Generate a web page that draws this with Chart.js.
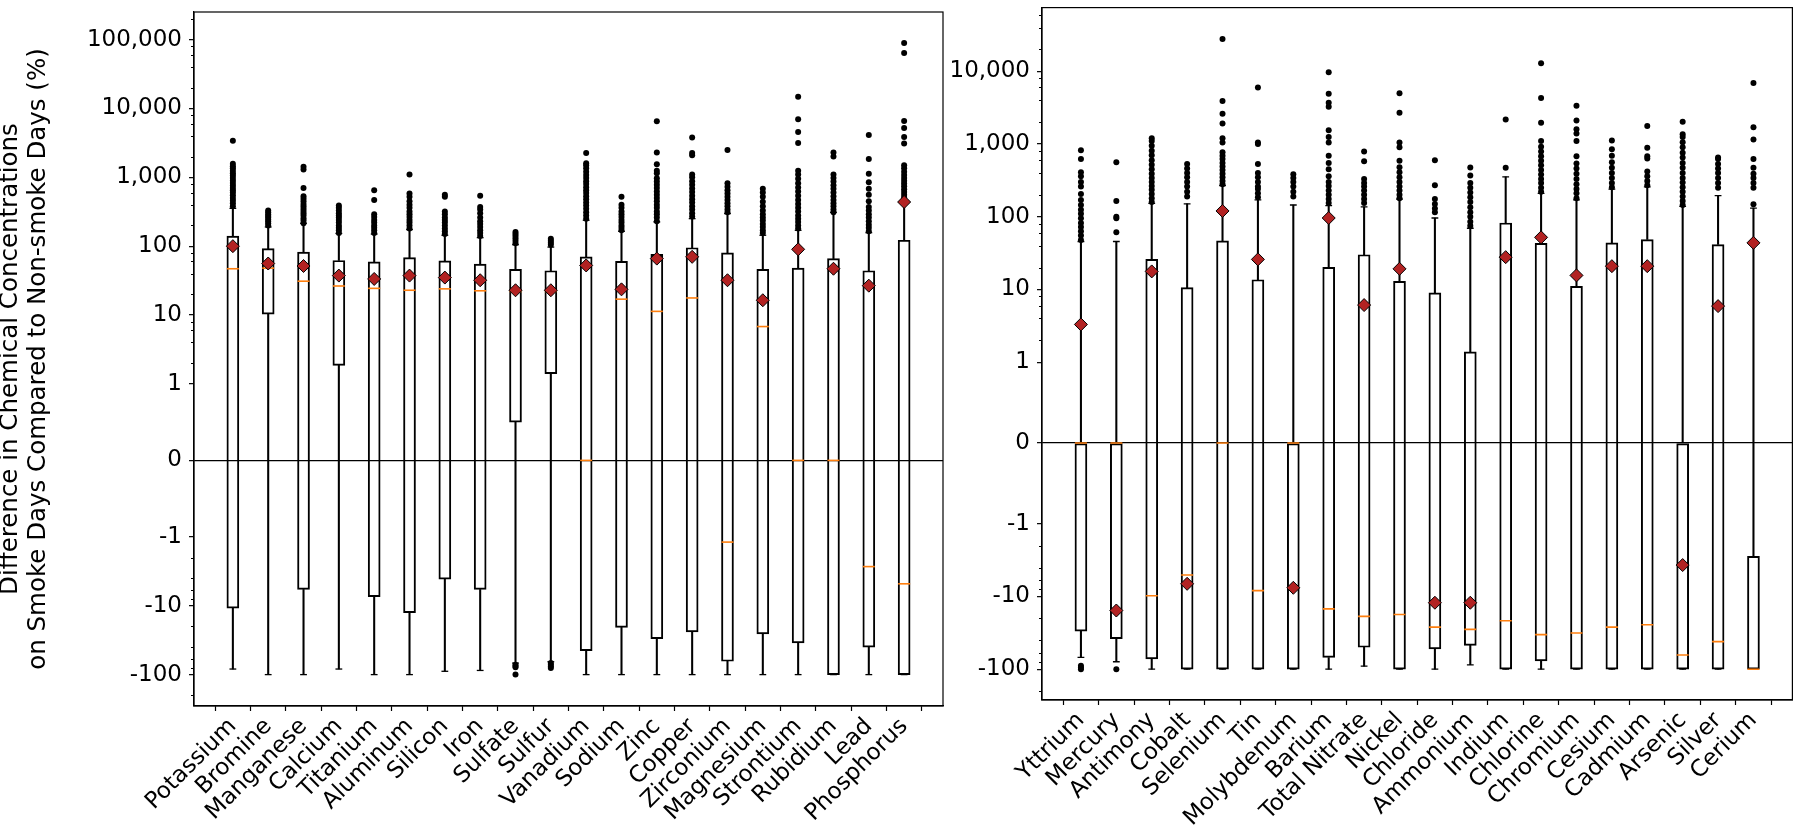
<!DOCTYPE html>
<html>
<head>
<meta charset="utf-8">
<script src="https://cdn.jsdelivr.net/npm/chart.js@4.4.1/dist/chart.umd.min.js"></script>
<style>
html, body { margin: 0; padding: 0; background: #fff; }
#wrap { position: relative; width: 1800px; height: 840px; }
.panel { position: absolute; top: 0; height: 840px; }
</style>
</head>
<body>
<div id="wrap">
  <div class="panel" style="left:0;width:960px"><canvas id="leftChart"></canvas></div>
  <div class="panel" style="left:880px;width:920px"><canvas id="rightChart"></canvas></div>
</div>
<script>
// ---- Panel gauche ----
const leftNames = ['Potassium', 'Bromine', 'Manganese', 'Calcium', 'Titanium', 'Aluminum', 'Silicon', 'Iron', 'Sulfate', 'Sulfur',
  'Vanadium', 'Sodium', 'Zinc', 'Copper', 'Zirconium', 'Magnesium', 'Strontium', 'Rubidium', 'Lead', 'Phosphorus'];
const leftQ3 = [140, 92, 82, 62, 59, 68, 61, 55, 46, 44, 70, 60, 76, 95, 80, 46, 48, 66, 44, 122];
const leftQ1 = [-10.8, 10.3, -5.8, 1.86, -7.4, -12.6, -4.1, -5.8, 0.5, 1.41, -45, -20.6, -30, -24, -64, -25.7, -34.7, -100, -40, -100];
const leftMedian = [47, 48, 31, 26.4, 24.4, 22.9, 24, 22.5, 22, 22, 0, 17, 11.3, 17.7, -1.19, 6.8, 0, 0, -2.7, -4.8];
const leftMean = [100, 56, 51.5, 37.4, 33.4, 37.4, 35, 32, 22.9, 22.9, 52.5, 23.6, 66, 70, 32, 16.4, 90, 47, 26.7, 438];
const leftWhiskHigh = [354, 190, 215, 153, 150, 174, 144, 133, 105, 97, 238, 164, 225, 251, 297, 144, 170, 310, 157, 455];
const leftWhiskLow = [-83, -100, -100, -83, -100, -100, -89.5, -87, -68, -65, -100, -100, -100, -100, -100, -100, -100, -100, -100, -100];
const leftOutliers = [
  [380, 420, 460, 500, 550, 600, 650, 700, 760, 830, 900, 980, 1060, 1150, 1250, 1350, 1450, 1580, 3400],
  [200, 215, 230, 245, 260, 275, 290, 310, 330],
  [215, 235, 255, 280, 300, 325, 350, 380, 410, 450, 490, 530, 700, 1300, 1420],
  [155, 170, 185, 200, 220, 240, 260, 280, 300, 330, 360, 390],
  [155, 170, 185, 200, 220, 240, 265, 290, 470, 650],
  [180, 200, 220, 240, 265, 290, 320, 360, 400, 450, 520, 580, 1100],
  [150, 165, 180, 200, 220, 240, 260, 290, 320, 520, 560],
  [140, 155, 170, 190, 210, 230, 260, 300, 340, 370, 540],
  [110, 120, 130, 140, 150, 160, -72, -75, -78, -100],
  [105, 112, 120, 128, -68, -72, -76, -80],
  [250, 280, 310, 350, 390, 430, 480, 530, 590, 650, 720, 800, 880, 980, 1080, 1200, 1350, 1500, 1600, 2250],
  [170, 185, 200, 220, 240, 265, 290, 320, 360, 400, 520],
  [230, 260, 290, 320, 360, 400, 450, 500, 560, 620, 700, 780, 870, 970, 1150, 1250, 1550, 2300, 6500],
  [270, 300, 340, 380, 430, 480, 540, 610, 690, 780, 880, 1000, 1100, 2100, 2250, 3800],
  [310, 340, 380, 420, 470, 520, 580, 650, 730, 820, 2500],
  [155, 170, 190, 210, 235, 260, 290, 330, 380, 440, 520, 600, 680],
  [180, 200, 225, 250, 280, 320, 360, 410, 470, 540, 620, 710, 820, 950, 1100, 1250, 3150, 4560, 6970, 14800],
  [310, 340, 380, 420, 470, 530, 600, 680, 770, 870, 980, 1100, 2000, 2300],
  [165, 185, 205, 230, 260, 290, 330, 370, 450, 560, 680, 850, 1130, 1840, 4130],
  [470, 510, 560, 610, 670, 740, 810, 890, 980, 1080, 1200, 1350, 1500, 3100, 3850, 5200, 6600, 64000, 89000]
];
const leftYTicks = [100000, 10000, 1000, 100, 10, 1, 0, -1, -10, -100];

// ---- Panel droit ----
const rightNames = ['Yttrium', 'Mercury', 'Antimony', 'Cobalt', 'Selenium', 'Tin', 'Molybdenum', 'Barium', 'Total Nitrate', 'Nickel',
  'Chloride', 'Ammonium', 'Indium', 'Chlorine', 'Chromium', 'Cesium', 'Cadmium', 'Arsenic', 'Silver', 'Cerium'];
const rightQ3 = [0, 0, 25.9, 10.6, 46.5, 13.6, 0, 20.1, 30, 12.9, 8.95, 1.39, 82, 43, 11, 43.7, 48.6, 0, 41.5, -2.8];
const rightQ1 = [-29.9, -38, -72, -100, -100, -100, -100, -69, -50, -100, -52.7, -47, -100, -77, -100, -100, -100, -100, -100, -100];
const rightMedian = [0, 0, -9.8, -5.06, 0, -8.3, 0, -14.8, -18.8, -17.7, -26.4, -28.4, -21.6, -33.5, -31.8, -26.4, -24.5, -63.7, -41.8, -100];
const rightMean = [3.3, -15.6, 17.7, -6.7, 120, 25.9, -7.6, 96, 6.1, 19.2, -12.2, -12.2, 27.8, 52, 15.6, 20.9, 20.9, -3.7, 5.9, 43.7];
const rightWhiskHigh = [45.6, 45.6, 153, 150, 267, 170, 145, 142, 137, 175, 96, 69.4, 354, 209, 170, 240, 258, 139, 195, 131];
const rightWhiskLow = [-69, -79, -100, -100, -100, -100, -100, -100, -91, -100, -100, -87, -100, -100, -100, -100, -100, -100, -100, -100];
const rightOutliers = [
  [48, 55, 63, 72, 82, 95, 110, 125, 145, 170, 205, 260, 300, 360, 410, 620, 820, -90, -95, -100],
  [61, 95, 100, 165, 560, -100],
  [160, 180, 205, 235, 265, 300, 340, 390, 450, 520, 600, 700, 810, 950, 1100, 1200],
  [190, 220, 260, 300, 350, 400, 460, 530],
  [280, 310, 350, 390, 440, 490, 550, 620, 690, 770, 1050, 1200, 1920, 2600, 3900, 27700],
  [185, 210, 240, 260, 300, 350, 400, 530, 1000, 1050, 6000],
  [190, 220, 260, 300, 340, 385],
  [155, 175, 200, 230, 265, 300, 360, 450, 550, 690, 1050, 1250, 1550, 3250, 3700, 4900, 9700],
  [155, 175, 200, 230, 260, 290, 330, 580, 790],
  [180, 200, 230, 260, 300, 350, 410, 480, 590, 900, 1050, 2700, 5000],
  [115, 130, 150, 175, 270, 600],
  [75, 85, 100, 115, 135, 160, 185, 215, 250, 290, 370, 475],
  [470, 2170],
  [220, 250, 290, 330, 380, 440, 510, 590, 680, 790, 920, 1100, 1960, 4300, 12900],
  [180, 210, 240, 280, 330, 390, 460, 540, 680, 1100, 1400, 1600, 2100, 3350],
  [255, 290, 340, 400, 470, 560, 690, 850, 1120],
  [270, 310, 360, 420, 630, 680, 890, 1770],
  [145, 165, 190, 220, 255, 295, 340, 400, 470, 550, 650, 760, 900, 1060, 1250, 1360, 2020],
  [250, 290, 340, 400, 460, 530, 620, 650],
  [148, 250, 290, 340, 390, 470, 620, 1150, 1700, 6900]
];
const rightYTicks = [10000, 1000, 100, 10, 1, 0, -1, -10, -100];

// échelle symlog (linthresh = 1, comme matplotlib)
const LIN = 1 / (1 - 1 / 10);
function symlog(v) {
  const a = Math.abs(v);
  return a <= 1 ? v * LIN : Math.sign(v) * (LIN + Math.log10(a));
}

Chart.defaults.font.family = "'DejaVu Sans', sans-serif";
Chart.defaults.font.size = 23;
Chart.defaults.color = '#000';

// petites graduations mineures (2, 4, 6, 8 x 10^k)
const minorTicks = {
  id: 'minorTicks',
  afterDraw(chart) {
    const ys = chart.scales.y;
    const {left, top, bottom} = chart.chartArea;
    const ctx = chart.ctx;
    ctx.save();
    ctx.strokeStyle = '#000';
    ctx.lineWidth = 1;
    for (let k = 0; k <= 5; k++) {
      for (const m of [2, 4, 6, 8]) {
        for (const s of [1, -1]) {
          const p = ys.getPixelForValue(symlog(s * m * Math.pow(10, k)));
          if (p < top || p > bottom) continue;
          ctx.beginPath();
          ctx.moveTo(left - 3, Math.round(p) + 0.5);
          ctx.lineTo(left, Math.round(p) + 0.5);
          ctx.stroke();
        }
      }
    }
    ctx.restore();
  }
};

// cadre autour de la zone de tracé
const frame = {
  id: 'frame',
  afterDraw(chart) {
    const {left, top, right, bottom} = chart.chartArea;
    const ctx = chart.ctx;
    ctx.save();
    ctx.strokeStyle = '#000';
    ctx.lineWidth = 1.2;
    ctx.strokeRect(left, top, right - left, bottom - top);
    ctx.restore();
  }
};

function buildPanel(canvasId, p) {
  const idx = p.names.map((_, i) => i);
  const whiskUp = idx.map(i => ({x: i, y: [symlog(p.q3[i]), symlog(p.whiskHigh[i])]}));
  const whiskDown = idx.map(i => ({x: i, y: [symlog(p.whiskLow[i]), symlog(p.q1[i])]}));
  const boxes = idx.map(i => ({x: i, y: [symlog(p.q1[i]), symlog(p.q3[i])]}));
  const caps = idx.flatMap(i => [{x: i, y: symlog(p.whiskLow[i])}, {x: i, y: symlog(p.whiskHigh[i])}]);
  const medians = idx.map(i => ({x: i, y: symlog(p.median[i])}));
  const means = idx.map(i => ({x: i, y: symlog(p.mean[i])}));
  const fliers = idx.flatMap(i => p.outliers[i].map(v => ({x: i, y: symlog(v)})));

  const yTitle = p.yTitle ? {
    display: true,
    text: p.yTitle,
    font: {size: 24.5, lineHeight: 1.165},
    padding: {top: -3.8, bottom: 0}
  } : {display: false};

  return new Chart(document.getElementById(canvasId), {
    type: 'bar',
    data: {
      datasets: [
        {type: 'bar', data: whiskUp, backgroundColor: '#000', borderWidth: 0, barThickness: 1.4, grouped: false, order: 7},
        {type: 'bar', data: whiskDown, backgroundColor: '#000', borderWidth: 0, barThickness: 1.4, grouped: false, order: 6},
        {type: 'bar', data: boxes, backgroundColor: 'rgba(0,0,0,0)', borderColor: '#000', borderWidth: 1.3,
          borderSkipped: false, barThickness: 12, grouped: false, order: 5},
        {type: 'scatter', data: caps, pointStyle: 'line', pointRadius: 3.4, pointBorderColor: '#000', pointBorderWidth: 1.3, order: 4},
        {type: 'scatter', data: medians, pointStyle: 'line', pointRadius: 6, pointBorderColor: '#ff7f0e', pointBorderWidth: 1.6, order: 3},
        {type: 'scatter', data: fliers, pointStyle: 'circle', pointRadius: 3, pointBackgroundColor: '#000',
          pointBorderColor: '#000', pointBorderWidth: 0, order: 2},
        {type: 'scatter', data: means, pointStyle: 'rectRot', pointRadius: 6.5, pointBackgroundColor: '#b22222',
          pointBorderColor: '#000', pointBorderWidth: 1, order: 1}
      ]
    },
    options: {
      responsive: true,
      maintainAspectRatio: false,
      animation: false,
      events: [],
      layout: {padding: p.padding},
      plugins: {legend: {display: false}, tooltip: {enabled: false}},
      scales: {
        x: {
          type: 'linear',
          min: -1.1,
          max: p.names.length - 1 + 1.1,
          offset: false,
          afterBuildTicks: s => { s.ticks = idx.map(v => ({value: v})); },
          afterFit: s => { s.height = p.xHeight; s.paddingLeft = 0; s.paddingRight = 0; },
          ticks: {autoSkip: false, minRotation: 45, maxRotation: 45, padding: 2, callback: v => p.names[v]},
          grid: {drawOnChartArea: false, tickLength: 5, tickColor: '#000', tickWidth: 1.2},
          border: {display: true, color: '#000', width: 1.2}
        },
        y: {
          type: 'linear',
          min: p.yMin,
          max: p.yMax,
          afterBuildTicks: s => { s.ticks = p.yTicks.map(v => ({value: symlog(v)})); },
          afterFit: s => { s.width = p.yWidth; s.paddingTop = 0; s.paddingBottom = 0; },
          ticks: {padding: 7, callback: (v, i) => p.yTicks[i].toLocaleString('en-US')},
          grid: {
            color: c => (c.tick && c.tick.value === 0) ? '#000' : 'rgba(0,0,0,0)',
            lineWidth: 1.3,
            tickLength: 5,
            tickColor: '#000',
            tickWidth: 1.2
          },
          border: {display: true, color: '#000', width: 1.2},
          title: yTitle
        }
      }
    },
    plugins: [minorTicks, frame]
  });
}

buildPanel('leftChart', {
  names: leftNames, q1: leftQ1, q3: leftQ3, median: leftMedian, mean: leftMean,
  whiskLow: leftWhiskLow, whiskHigh: leftWhiskHigh, outliers: leftOutliers,
  yTicks: leftYTicks, yMin: -3.567, yMax: 6.512,
  yWidth: 194, xHeight: 134,
  padding: {left: 0, top: 12, right: 17, bottom: 0},
  yTitle: ['Difference in Chemical Concentrations', 'on Smoke Days Compared to Non-smoke Days (%)']
});

buildPanel('rightChart', {
  names: rightNames, q1: rightQ1, q3: rightQ3, median: rightMedian, mean: rightMean,
  whiskLow: rightWhiskLow, whiskHigh: rightWhiskHigh, outliers: rightOutliers,
  yTicks: rightYTicks, yMin: -3.535, yMax: 5.987,
  yWidth: 162, xHeight: 140,
  padding: {left: 0, top: 4, right: 7, bottom: 0},
  yTitle: null
});
</script>
</body>
</html>
